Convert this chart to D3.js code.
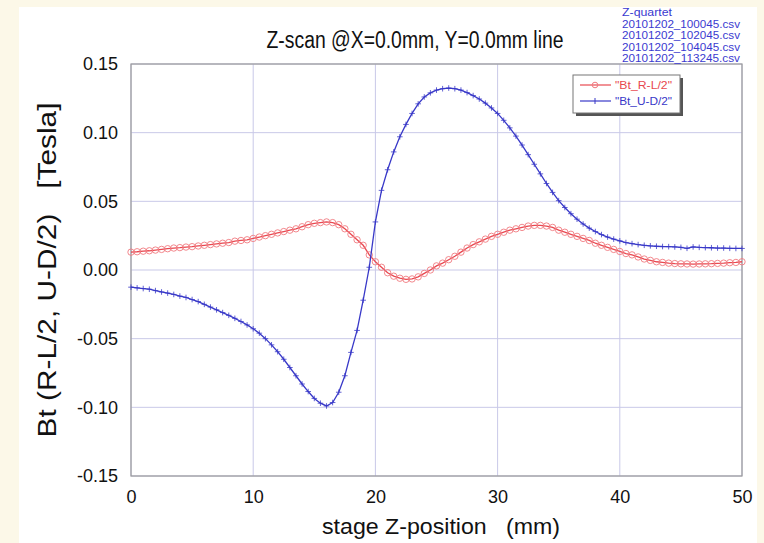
<!DOCTYPE html>
<html><head><meta charset="utf-8">
<script src="https://cdn.jsdelivr.net/npm/d3@7"></script>
<style>body{margin:0;background:#fcf8e8;}svg{display:block;} text.pre{white-space:pre;}</style>
</head><body>
<svg id="c" width="764" height="543"></svg>
<script>
const zStart = 0, zStep = 0.5;
const rlValues = [
0.013,0.0133,0.0137,0.014,0.0145,0.015,0.0155,0.016,0.0163,0.0167,
0.017,0.0175,0.018,0.0185,0.019,0.0195,0.020,0.021,0.0215,0.022,
0.023,0.024,0.025,0.026,0.027,0.028,0.029,0.030,0.0315,0.033,
0.034,0.0345,0.035,0.0345,0.033,0.030,0.026,0.022,0.018,0.011,
0.006,0.002,-0.002,-0.0045,-0.006,-0.0068,-0.0065,-0.005,-0.0025,0.0,
0.003,0.005,0.0075,0.010,0.013,0.016,0.0185,0.0205,0.0225,0.0245,
0.026,0.0275,0.029,0.030,0.031,0.032,0.0325,0.0325,0.032,0.031,
0.029,0.0275,0.026,0.0245,0.023,0.0215,0.0195,0.018,0.0165,0.015,
0.0135,0.012,0.011,0.0095,0.008,0.007,0.006,0.0055,0.005,0.0047,
0.0045,0.0044,0.0043,0.0044,0.0045,0.0046,0.0048,0.005,0.0053,0.0055,
0.006];
const udValues = [
-0.0125,-0.013,-0.0135,-0.014,-0.015,-0.016,-0.0168,-0.0178,-0.019,-0.020,
-0.0215,-0.023,-0.025,-0.027,-0.029,-0.031,-0.033,-0.0352,-0.0375,-0.040,
-0.0428,-0.046,-0.050,-0.0545,-0.0595,-0.065,-0.071,-0.077,-0.083,-0.0885,
-0.0935,-0.097,-0.099,-0.0965,-0.089,-0.077,-0.060,-0.044,-0.022,0.002,
0.035,0.058,0.073,0.086,0.097,0.106,0.114,0.121,0.126,0.129,
0.131,0.132,0.1325,0.132,0.131,0.1292,0.127,0.1245,0.1215,0.118,
0.114,0.109,0.1035,0.0975,0.091,0.084,0.077,0.070,0.063,0.0565,
0.0505,0.0455,0.041,0.037,0.0335,0.0305,0.028,0.0258,0.024,0.0225,
0.0212,0.020,0.0192,0.0185,0.018,0.0176,0.0173,0.0171,0.017,0.0168,
0.0165,0.0158,0.0168,0.0165,0.0163,0.0162,0.016,0.016,0.0158,0.0157,
0.0157];
const xTicks = [0,10,20,30,40,50];
const yTicks = [-0.15,-0.10,-0.05,0.00,0.05,0.10,0.15];
const seriesNames = ['"Bt_R-L/2"','"Bt_U-D/2"'];
const fileLines = ["Z-quartet","20101202_100045.csv","20101202_102045.csv","20101202_104045.csv","20101202_113245.csv"];
const titleText = "Z-scan @X=0.0mm, Y=0.0mm line";
const xTitle = "stage Z-position   (mm)";
const yTitle = "Bt (R-L/2, U-D/2)   [Tesla]";

const svg = d3.select("#c");
const F = "'Liberation Sans', Arial, Helvetica, sans-serif";
svg.append("rect").attr("x",19).attr("y",7).attr("width",738).attr("height",536).attr("fill","#ffffff");

const L=131,R=742,T=64,B=476;
const x = d3.scaleLinear().domain([0,50]).range([L,R]);
const y = d3.scaleLinear().domain([-0.15,0.15]).range([B,T]);

const g = svg.append("g");
g.selectAll("line.gx").data(xTicks).join("line").attr("x1",d=>x(d)).attr("x2",d=>x(d)).attr("y1",T).attr("y2",B).attr("stroke","#c9c9e8").attr("stroke-width",1);
g.selectAll("line.gy").data(yTicks).join("line").attr("y1",d=>y(d)).attr("y2",d=>y(d)).attr("x1",L).attr("x2",R).attr("stroke","#c9c9e8").attr("stroke-width",1);
g.append("rect").attr("x",L).attr("y",T).attr("width",R-L).attr("height",B-T).attr("fill","none").attr("stroke","#9a9a9a").attr("stroke-width",1.2);

const fmtY = d => d3.format(".2f")(d).replace("\u2212","-");
const ax = svg.append("g").attr("transform",`translate(0,${B})`).call(d3.axisBottom(x).tickValues(xTicks).tickSize(0).tickPadding(14).tickFormat(d3.format("d")));
ax.select(".domain").remove();
ax.selectAll("text").attr("font-family",F).attr("font-size",18).attr("fill","#111");
const ay = svg.append("g").attr("transform",`translate(${L},0)`).call(d3.axisLeft(y).tickValues(yTicks).tickSize(0).tickPadding(13).tickFormat(fmtY));
ay.select(".domain").remove();
ay.selectAll("text").attr("font-family",F).attr("font-size",18).attr("fill","#111");

const rl = rlValues.map((v,i)=>({z:zStart+i*zStep,v}));
const ud = udValues.map((v,i)=>({z:zStart+i*zStep,v}));
const line = d3.line().x(d=>x(d.z)).y(d=>y(d.v));
const red="#e84850", blue="#3838c8";
svg.append("path").datum(rl).attr("d",line).attr("fill","none").attr("stroke",red).attr("stroke-width",1.3);
svg.selectAll("circle.m").data(rl).join("circle").attr("cx",d=>x(d.z)).attr("cy",d=>y(d.v)).attr("r",3.2).attr("fill","none").attr("stroke","#f07a80").attr("stroke-width",0.9);
svg.append("path").datum(ud).attr("d",line).attr("fill","none").attr("stroke",blue).attr("stroke-width",1.3);
const pl = svg.append("g");
ud.forEach(d=>{
  pl.append("line").attr("x1",x(d.z)-2.8).attr("x2",x(d.z)+2.8).attr("y1",y(d.v)).attr("y2",y(d.v)).attr("stroke",blue).attr("stroke-width",0.8);
  pl.append("line").attr("x1",x(d.z)).attr("x2",x(d.z)).attr("y1",y(d.v)-2.8).attr("y2",y(d.v)+2.8).attr("stroke",blue).attr("stroke-width",0.8);
});

svg.append("text").attr("x",415).attr("y",48).attr("text-anchor","middle").attr("font-family",F).attr("font-size",23).attr("textLength",297).attr("lengthAdjust","spacingAndGlyphs").attr("fill","#111").text(titleText);
svg.append("text").attr("class","pre").attr("x",441).attr("y",534).attr("text-anchor","middle").attr("font-family",F).attr("font-size",22).attr("textLength",238).attr("lengthAdjust","spacingAndGlyphs").attr("fill","#111").text(xTitle);
svg.append("text").attr("class","pre").attr("transform",`translate(56,270) rotate(-90)`).attr("text-anchor","middle").attr("font-family",F).attr("font-size",26).attr("textLength",335).attr("lengthAdjust","spacingAndGlyphs").attr("fill","#111").text(yTitle);

svg.selectAll("text.f").data(fileLines).join("text").attr("x",622).attr("y",(d,i)=>16+i*11.5).attr("font-family",F).attr("font-size",11).attr("textLength",d=>d.length>10?118:50).attr("lengthAdjust","spacingAndGlyphs").attr("fill","#3a3ad0").text(d=>d);

const lg = svg.append("g");
lg.append("rect").attr("x",576).attr("y",78).attr("width",107).attr("height",38).attr("fill","#555");
lg.append("rect").attr("x",573).attr("y",75).attr("width",107).attr("height",38).attr("fill","#fff").attr("stroke","#777").attr("stroke-width",1);
const lrow=[85,101];
lg.append("line").attr("x1",580).attr("x2",611).attr("y1",lrow[0]).attr("y2",lrow[0]).attr("stroke",red).attr("stroke-width",1.2);
lg.append("circle").attr("cx",595).attr("cy",lrow[0]).attr("r",2.8).attr("fill","none").attr("stroke","#f07a80");
lg.append("line").attr("x1",580).attr("x2",611).attr("y1",lrow[1]).attr("y2",lrow[1]).attr("stroke",blue).attr("stroke-width",1.2);
lg.append("line").attr("x1",595).attr("x2",595).attr("y1",lrow[1]-3).attr("y2",lrow[1]+3).attr("stroke",blue);
lg.selectAll("text.l").data(seriesNames).join("text").attr("x",615).attr("y",(d,i)=>lrow[i]+4).attr("font-family",F).attr("font-size",11).attr("textLength",57).attr("lengthAdjust","spacingAndGlyphs").attr("fill",(d,i)=>i?blue:red).text(d=>d);
</script>
</body></html>
